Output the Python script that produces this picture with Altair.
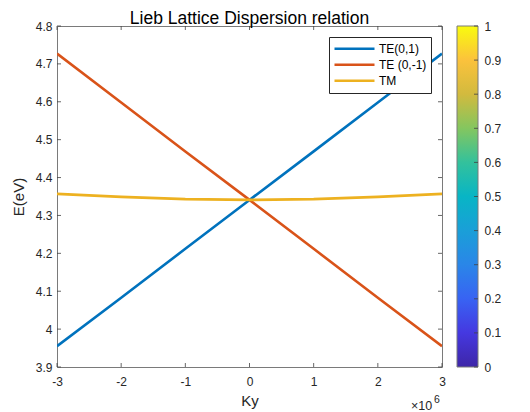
import altair as alt
import pandas as pd

# ---- data ----
ky = [-3, -2, -1, 0, 1, 2, 3]                      # Ky (x 10^6)
te_plus = [3.955, 4.083, 4.212, 4.341, 4.469, 4.598, 4.727]   # TE(0,1)
te_minus = [4.727, 4.598, 4.469, 4.341, 4.212, 4.083, 3.955]  # TE (0,-1)
tm = [4.357, 4.349, 4.343, 4.341, 4.343, 4.349, 4.357]        # TM

series_names = ["TE(0,1)", "TE (0,-1)", "TM"]
series_colors = ["#0072BD", "#D95319", "#EDB120"]

x_ticks = [-3, -2, -1, 0, 1, 2, 3]
y_ticks = [3.9, 4.0, 4.1, 4.2, 4.3, 4.4, 4.5, 4.6, 4.7, 4.8]
cb_ticks = [0, 0.1, 0.2, 0.3, 0.4, 0.5, 0.6, 0.7, 0.8, 0.9, 1.0]
parula_offsets = [0, 0.1, 0.2, 0.3, 0.4, 0.5, 0.6, 0.7, 0.8, 0.9, 1.0]
parula_colors = ["#3e26a8", "#4538e0", "#3863f3", "#2a86e8", "#1a9fd8",
                 "#08b5c5", "#33c19c", "#84c65f", "#d2ba3e", "#fbc23c", "#f9fb0e"]

TITLE = "Lieb Lattice Dispersion relation"
FONT = "Liberation Sans"
TXT = "#262626"
BOX = "#7a7a7a"
W, H = 385, 341
CB_X, CB_W = 400, 21
HYPHEN_LABEL = "replace(datum.label, '\u2212', '-')"

rows = []
for name, vals in zip(series_names, [te_plus, te_minus, tm]):
    for k, e in zip(ky, vals):
        rows.append({"Ky": k, "E": e, "series": name})
df = pd.DataFrame(rows)

xscale = alt.Scale(domain=[-3, 3], nice=False)
yscale = alt.Scale(domain=[3.9, 4.8], nice=False)
cbscale = alt.Scale(domain=[0, 1], nice=False)
tick_style = dict(color="#404040", strokeWidth=0.8)

x_axis = alt.Axis(values=x_ticks, format="~g", labelExpr=HYPHEN_LABEL, tickSize=0,
                  domain=False, grid=False, labelPadding=9, titlePadding=6,
                  labelFlush=False, labelOverlap=False)
y_axis = alt.Axis(values=y_ticks, format="~g", tickSize=0, domain=False,
                  grid=False, labelPadding=5, titlePadding=9, labelOverlap=False)
cb_axis = alt.Axis(orient="right", values=cb_ticks, format="~g", tickSize=0,
                   domain=False, grid=False, labelPadding=6,
                   labelOverlap=False, offset=CB_X + CB_W - W)

lines = alt.Chart(df).mark_line(strokeWidth=2.6, clip=True).encode(
    x=alt.X("Ky:Q", scale=xscale, title="Ky", axis=x_axis),
    y=alt.Y("E:Q", scale=yscale, title="E(eV)", axis=y_axis),
    color=alt.Color("series:N",
                    scale=alt.Scale(domain=series_names, range=series_colors),
                    sort=series_names,
                    legend=alt.Legend(title=None, orient="top-right", offset=11,
                                      symbolType="stroke", symbolSize=1600,
                                      symbolStrokeWidth=2.6, clipHeight=15.5,
                                      rowPadding=0, padding=4, labelOffset=3,
                                      labelFont=FONT, labelFontSize=12,
                                      labelColor="#000000",
                                      strokeColor="#262626", fillColor="#ffffff")),
)

xt = pd.DataFrame({"t": x_ticks})
yt = pd.DataFrame({"t": y_ticks})
bottom_ticks = alt.Chart(xt).mark_rule(**tick_style).encode(
    x=alt.X("t:Q", scale=xscale, title="Ky", axis=x_axis),
    y=alt.value(H), y2=alt.value(H - 4))
top_ticks = alt.Chart(xt).mark_rule(**tick_style).encode(
    x=alt.X("t:Q", scale=xscale, title="Ky", axis=x_axis),
    y=alt.value(0), y2=alt.value(4))
left_ticks = alt.Chart(yt).mark_rule(**tick_style).encode(
    y=alt.Y("t:Q", scale=yscale, title="E(eV)", axis=y_axis),
    x=alt.value(0), x2=alt.value(4))
right_ticks = alt.Chart(yt).mark_rule(**tick_style).encode(
    y=alt.Y("t:Q", scale=yscale, title="E(eV)", axis=y_axis),
    x=alt.value(W), x2=alt.value(W - 4))

title_txt = alt.Chart(pd.DataFrame({"s": [TITLE]})).mark_text(
    font=FONT, fontSize=17.5, color="#000000", align="center", baseline="alphabetic"
).encode(text="s:N", x=alt.value(W / 2), y=alt.value(-2))
exp_base = alt.Chart(pd.DataFrame({"s": ["\u00d710"]})).mark_text(
    font=FONT, fontSize=12.5, color=TXT, align="left", baseline="alphabetic"
).encode(text="s:N", x=alt.value(W - 31), y=alt.value(H + 43))
exp_sup = alt.Chart(pd.DataFrame({"s": ["6"]})).mark_text(
    font=FONT, fontSize=10.5, color=TXT, align="left", baseline="alphabetic"
).encode(text="s:N", x=alt.value(W - 8), y=alt.value(H + 36))

main = alt.layer(lines, bottom_ticks, top_ticks, left_ticks, right_ticks,
                 title_txt, exp_base, exp_sup)

# ---- colorbar (drawn right of the plot, with its own y scale) ----
cb_df = pd.DataFrame({"v0": [0.0], "v1": [1.0]})
grad = alt.LinearGradient(
    gradient="linear",
    stops=[alt.GradientStop(offset=o, color=c) for o, c in zip(parula_offsets, parula_colors)],
    x1=0, x2=0, y1=1, y2=0)
cb_rect = alt.Chart(cb_df).mark_rect(fill=grad, stroke=BOX, strokeWidth=1).encode(
    y=alt.Y("v0:Q", scale=cbscale, title=None, axis=cb_axis),
    y2="v1:Q",
    x=alt.value(CB_X), x2=alt.value(CB_X + CB_W),
)
cb_tick_marks = alt.Chart(pd.DataFrame({"t": cb_ticks})).mark_rule(**tick_style).encode(
    y=alt.Y("t:Q", scale=cbscale, title=None, axis=cb_axis),
    x=alt.value(CB_X + CB_W), x2=alt.value(CB_X + CB_W - 4))
colorbar = alt.layer(cb_rect, cb_tick_marks)

chart = alt.layer(main, colorbar).resolve_scale(y="independent").properties(
    width=W, height=H,
    autosize=alt.AutoSizeParams(type="none"),
    padding={"left": 49, "top": 18, "right": 80, "bottom": 45},
    background="#ffffff",
).configure_view(stroke=BOX, strokeWidth=1).configure_axis(
    labelFont=FONT, labelFontSize=12, labelColor=TXT, labelOverlap=False,
    titleFont=FONT, titleFontSize=15, titleColor=TXT, titleFontWeight="normal",
)

chart.save("out.html", embed_options={"renderer": "svg", "actions": False})
